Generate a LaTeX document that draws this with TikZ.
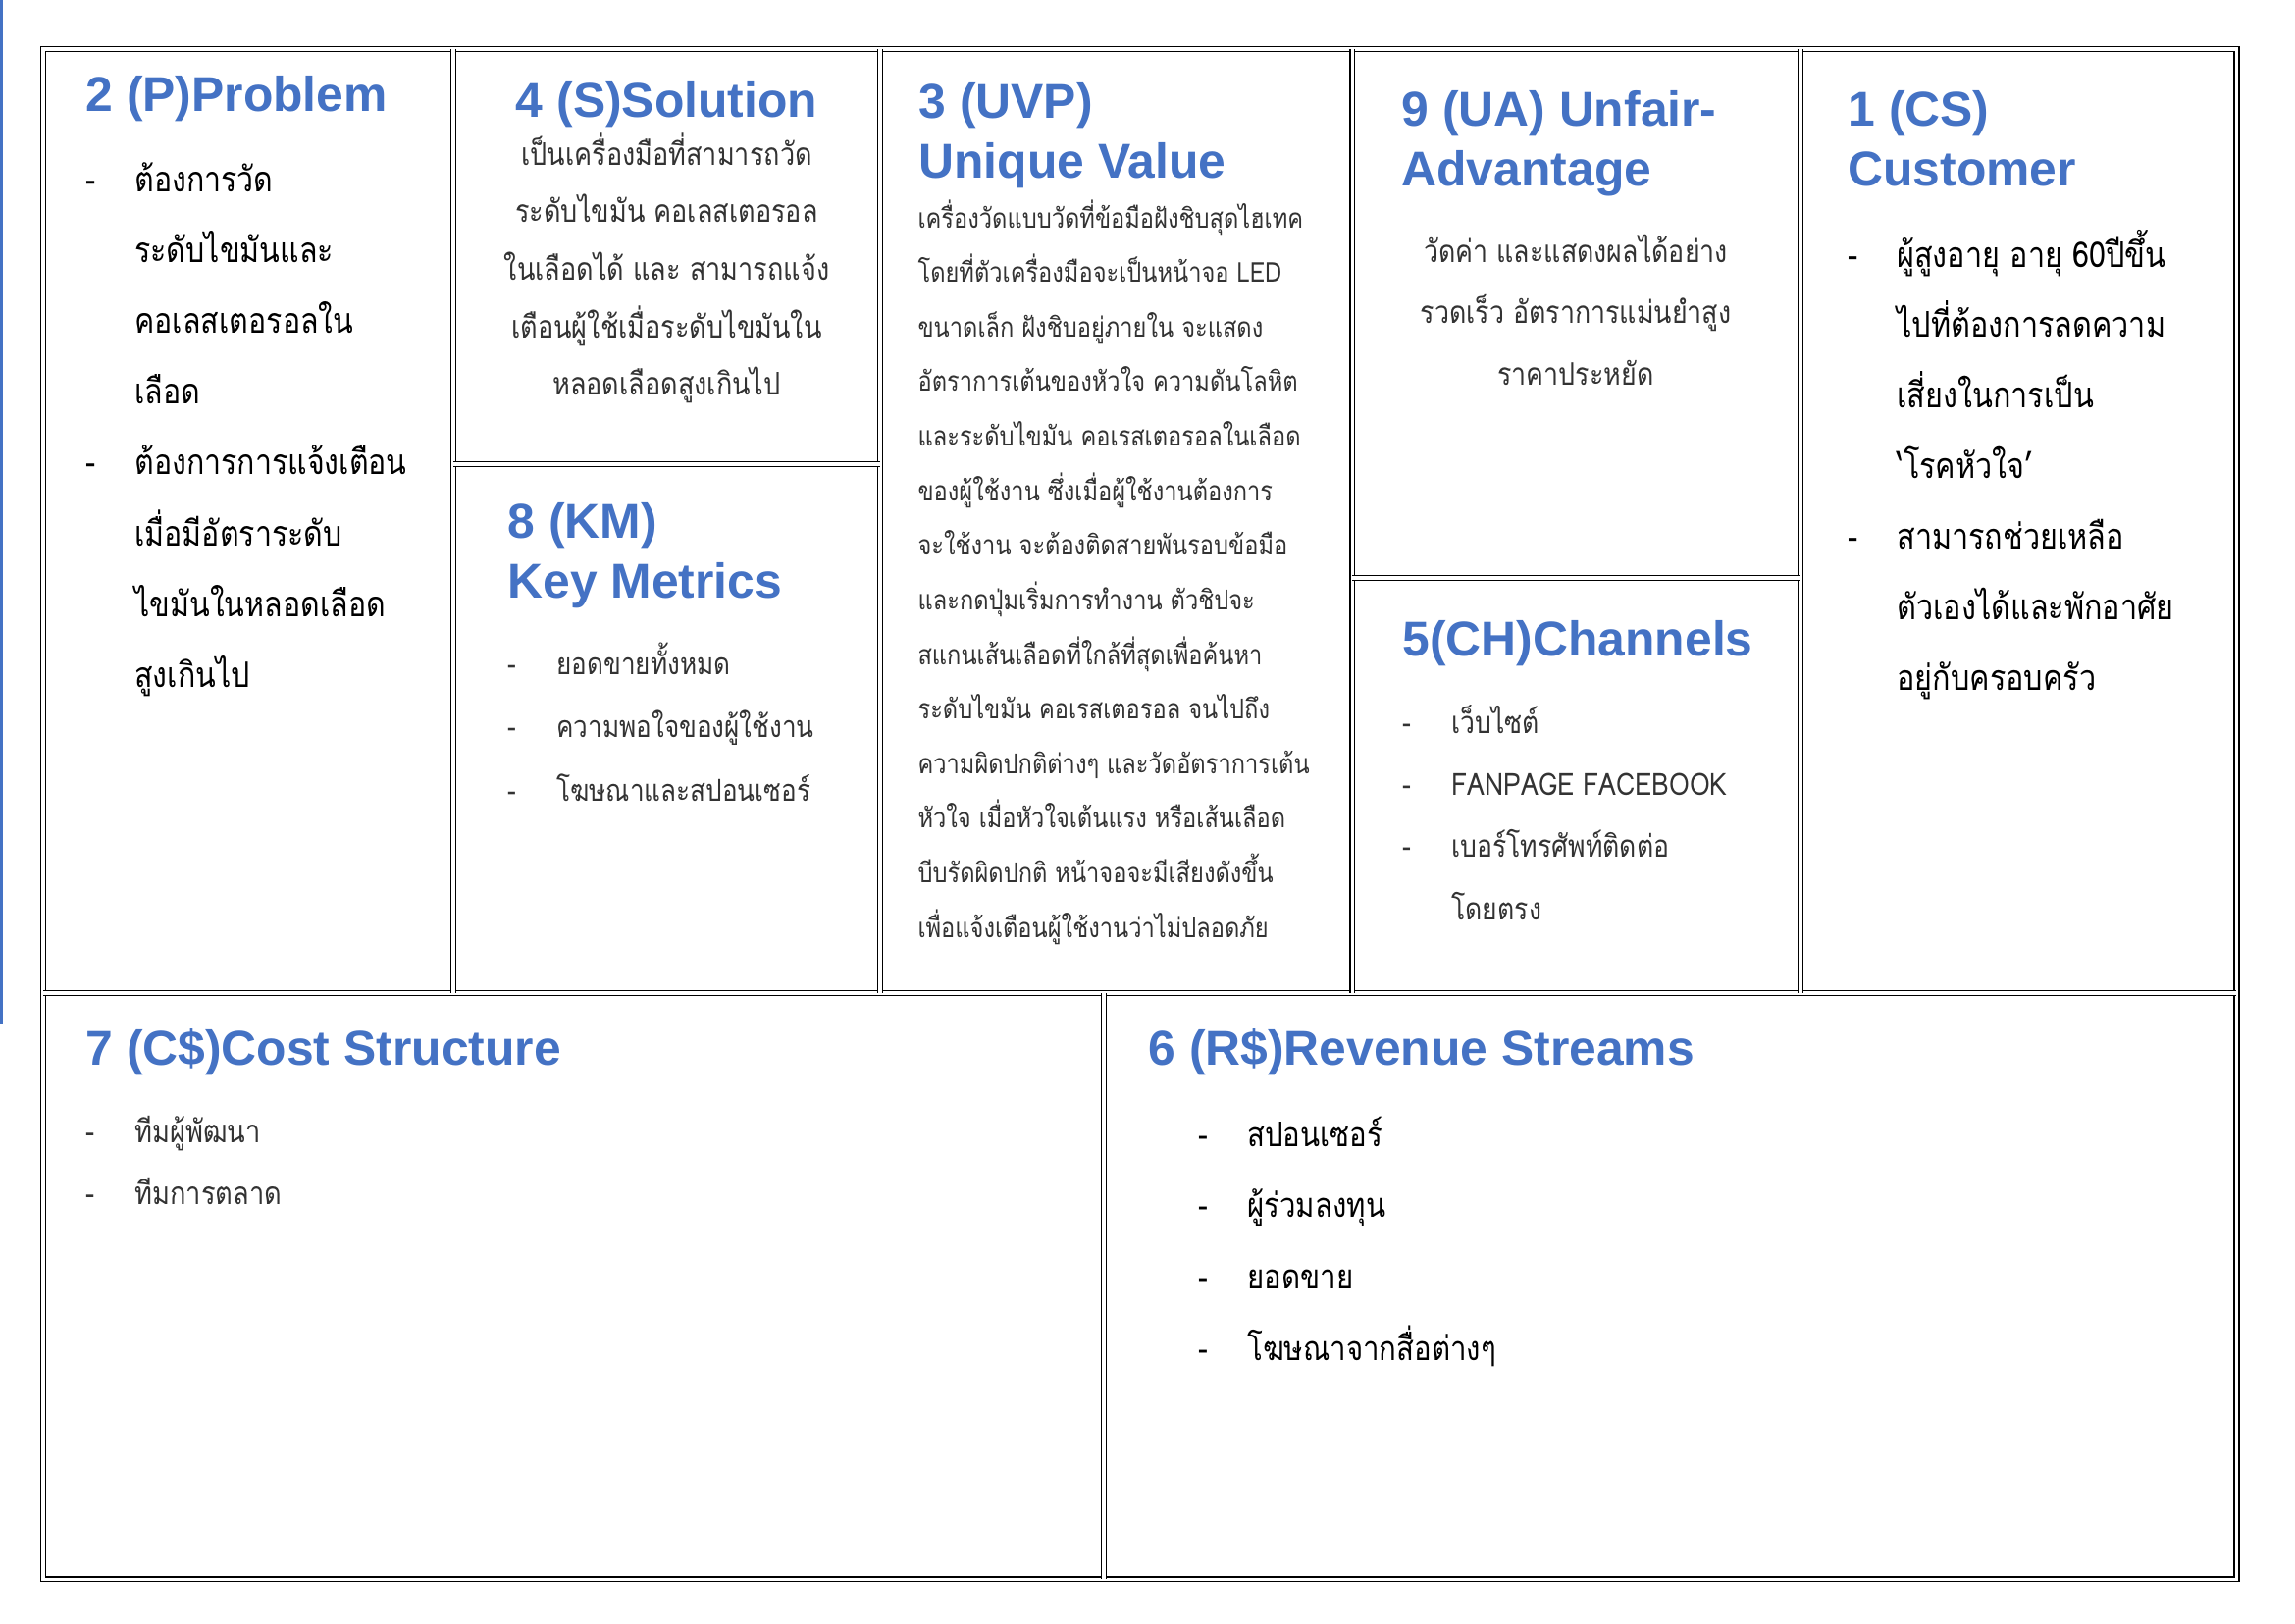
\documentclass[tikz,border=0pt]{standalone}
\usepackage{fontspec}
\setmainfont{Liberation Sans}
\newfontfamily\thaifont[Script=Thai, FakeStretch=0.85]{Loma}
\usepackage{xcolor}
\definecolor{headblue}{HTML}{4472C4}
\newcommand{\headfont}{\fontsize{18}{22.3}\selectfont\bfseries}
\newcommand{\itemdash}{\makebox[18pt][l]{-}}

\begin{document}
\begin{tikzpicture}[x=0.127mm, y=-0.127mm,
  frame/.style={double, double distance=1.1pt, line width=0.7pt},
  heading/.style={anchor=base west, inner sep=0pt, text=headblue, font=\headfont},
  items/.style={anchor=base west, inner sep=0pt, text=black}]
\useasboundingbox (0,0) rectangle (2339,1654);
\fill[white] (0,0) rectangle (2339,1654);
% blue mark on the left edge
\draw[headblue, line width=0.8pt] (1.5,0) -- (1.5,1044);

% canvas grid
\draw[frame] (44,50) rectangle (2279,1609);
\draw[frame] (44,1012) -- (2279,1012);
\draw[frame] (462,50) -- (462,1012);
\draw[frame] (897,50) -- (897,1012);
\draw[frame] (1378,50) -- (1378,1012);
\draw[frame] (1835,50) -- (1835,1012);
\draw[frame] (462,473) -- (897,473);
\draw[frame] (1378,589) -- (1835,589);
\draw[frame] (1125,1012) -- (1125,1609);

% 2 problem
\node[heading] (probHead) at (87,113) {2 (P)Problem};
\node[items] (probBody) at (87,195) {\thaifont\fontsize{12.9}{26.1}\selectfont
\begin{tabular}[t]{@{}l@{}l@{}}
\itemdash & ต้องการวัด\\
 & ระดับไขมันและ\\
 & คอเลสเตอรอลใน\\
 & เลือด\\
\itemdash & ต้องการการแจ้งเตือน\\
 & เมื่อมีอัตราระดับ\\
 & ไขมันในหลอดเลือด\\
 & สูงเกินไป
\end{tabular}};

% 4 solution
\node[heading, anchor=base] (solHead) at (679.5,119) {4 (S)Solution};
\node[items, anchor=base, text=black!80] (solBody) at (679.5,168) {\thaifont\fontsize{11.5}{21.2}\selectfont
\begin{tabular}[t]{@{}c@{}}
เป็นเครื่องมือที่สามารถวัด\\
ระดับไขมัน คอเลสเตอรอล\\
ในเลือดได้ และ สามารถแจ้ง\\
เตือนผู้ใช้เมื่อระดับไขมันใน\\
หลอดเลือดสูงเกินไป
\end{tabular}};

% 8 key metrics
\node[heading] (kmHead) at (517,548) {\begin{tabular}[t]{@{}l@{}}8 (KM)\\ Key Metrics\end{tabular}};
\node[items, text=black!80] (kmBody) at (517,687) {\thaifont\fontsize{11.1}{23.4}\selectfont
\begin{tabular}[t]{@{}l@{}l@{}}
\itemdash & ยอดขายทั้งหมด\\
\itemdash & ความพอใจของผู้ใช้งาน\\
\itemdash & โฆษณาและสปอนเซอร์
\end{tabular}};

% 3 unique value
\node[heading] (uvpHead) at (936,120) {\begin{tabular}[t]{@{}l@{}}3 (UVP)\\ Unique Value\end{tabular}};
\node[items, text=black!80] (uvpBody) at (935,232) {\thaifont\fontsize{10.05}{20.1}\selectfont
\begin{tabular}[t]{@{}l@{}}
เครื่องวัดแบบวัดที่ข้อมือฝังชิบสุดไฮเทค\\
โดยที่ตัวเครื่องมือจะเป็นหน้าจอ LED\\
ขนาดเล็ก ฝังชิบอยู่ภายใน จะแสดง\\
อัตราการเต้นของหัวใจ ความดันโลหิต\\
และระดับไขมัน คอเรสเตอรอลในเลือด\\
ของผู้ใช้งาน ซึ่งเมื่อผู้ใช้งานต้องการ\\
จะใช้งาน จะต้องติดสายพันรอบข้อมือ\\
และกดปุ่มเริ่มการทำงาน ตัวชิปจะ\\
สแกนเส้นเลือดที่ใกล้ที่สุดเพื่อค้นหา\\
ระดับไขมัน คอเรสเตอรอล จนไปถึง\\
ความผิดปกติต่างๆ และวัดอัตราการเต้น\\
หัวใจ เมื่อหัวใจเต้นแรง หรือเส้นเลือด\\
บีบรัดผิดปกติ หน้าจอจะมีเสียงดังขึ้น\\
เพื่อแจ้งเตือนผู้ใช้งานว่าไม่ปลอดภัย
\end{tabular}};

% 9 unfair advantage
\node[heading] (uaHead) at (1428,128) {\begin{tabular}[t]{@{}l@{}}9 (UA) Unfair-\\ Advantage\end{tabular}};
\node[items, anchor=base, text=black!80] (uaBody) at (1606,267) {\thaifont\fontsize{11.4}{22.7}\selectfont
\begin{tabular}[t]{@{}c@{}}
วัดค่า และแสดงผลได้อย่าง\\
รวดเร็ว อัตราการแม่นยำสูง\\
ราคาประหยัด
\end{tabular}};

% 5 channels
\node[heading] (chHead) at (1429,668) {5(CH)Channels};
\node[items, text=black!80] (chBody) at (1429,747) {\thaifont\fontsize{11.3}{22.9}\selectfont
\begin{tabular}[t]{@{}l@{}l@{}}
\itemdash & เว็บไซต์\\
\itemdash & FANPAGE FACEBOOK\\
\itemdash & เบอร์โทรศัพท์ติดต่อ\\
 & โดยตรง
\end{tabular}};

% 1 customer
\node[heading] (csHead) at (1883,128) {\begin{tabular}[t]{@{}l@{}}1 (CS)\\ Customer\end{tabular}};
\node[items] (csBody) at (1883,272) {\thaifont\fontsize{13}{26}\selectfont
\begin{tabular}[t]{@{}l@{}l@{}}
\itemdash & ผู้สูงอายุ อายุ 60ปีขึ้น\\
 & ไปที่ต้องการลดความ\\
 & เสี่ยงในการเป็น\\
 & ‘โรคหัวใจ’\\
\itemdash & สามารถช่วยเหลือ\\
 & ตัวเองได้และพักอาศัย\\
 & อยู่กับครอบครัว
\end{tabular}};

% 7 cost structure
\node[heading] (costHead) at (87,1085) {7 (C\$)Cost Structure};
\node[items, text=black!80] (costBody) at (87,1164) {\thaifont\fontsize{11.6}{23}\selectfont
\begin{tabular}[t]{@{}l@{}l@{}}
\itemdash & ทีมผู้พัฒนา\\
\itemdash & ทีมการตลาด
\end{tabular}};

% 6 revenue streams
\node[heading] (revHead) at (1170,1085) {6 (R\$)Revenue Streams};
\node[items] (revBody) at (1221,1168) {\thaifont\fontsize{12.5}{26.3}\selectfont
\begin{tabular}[t]{@{}l@{}l@{}}
\itemdash & สปอนเซอร์\\
\itemdash & ผู้ร่วมลงทุน\\
\itemdash & ยอดขาย\\
\itemdash & โฆษณาจากสื่อต่างๆ
\end{tabular}};
\end{tikzpicture}
\end{document}
